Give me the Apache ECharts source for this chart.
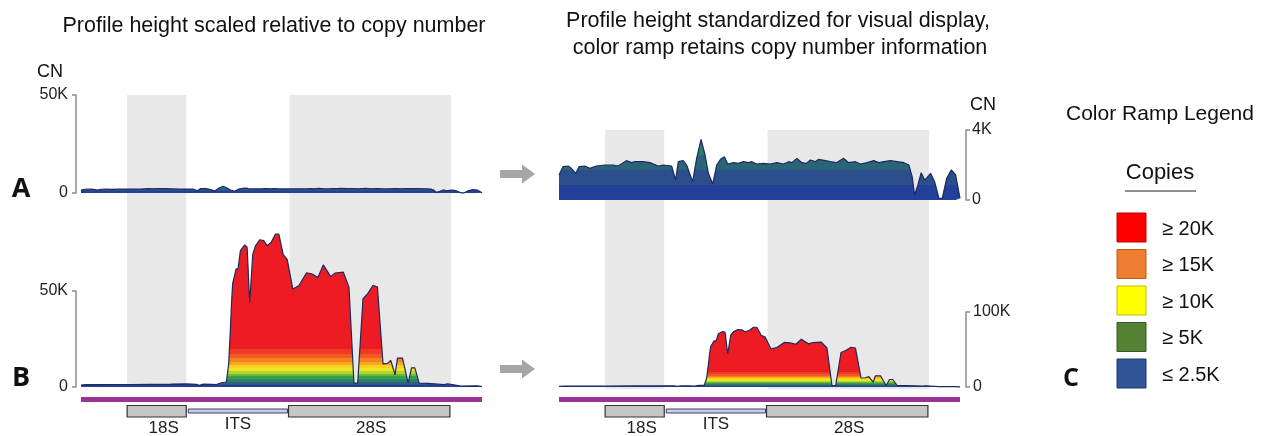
<!DOCTYPE html>
<html><head><meta charset="utf-8">
<script src="https://cdn.jsdelivr.net/npm/echarts@6/dist/echarts.min.js"></script>
<style>html,body{margin:0;padding:0;background:#fff}#c{width:1266px;height:436px}</style>
</head><body><div id="c"></div>
<script>
// ---------- DATA ----------
// position along the rDNA unit (0..400) and copy number
const profileA = [[0,1430],[4,1905],[9,1943],[12.3,1810],[16.7,1524],[20,1905],[25.7,1943],[30.7,1810],[37.3,1943],[45.7,2000],[54,2000],[59,1943],[67.3,2248],[72.3,2133],[75.7,2190],[84,2190],[90.7,2133],[99,1943],[104,2000],[112.3,1943],[116.3,1143],[119,2190],[124,2248],[127.3,2000],[133.3,1048],[137.3,2381],[141.7,3467],[145.7,2571],[149,1524],[153.3,914],[157.3,2000],[161.3,2343],[165,2476],[168.3,2057],[174,2133],[179,2095],[184,2190],[189,2133],[192.3,2190],[197.3,2057],[204,2095],[210.7,2057],[217.3,2133],[224,2057],[229,2190],[232.3,2133],[237.3,2381],[242.3,2133],[246.7,2095],[250.7,2286],[255.7,2190],[259,2324],[265.7,2248],[270.7,2190],[276.7,2133],[284,2381],[289,2133],[295.7,2190],[300.7,2057],[307.3,2133],[314,2248],[319,2133],[324,2190],[330.7,2248],[337.3,2190],[344,2133],[349,2000],[352.3,1333],[354.7,286],[358,857],[361.3,1562],[364.7,1143],[367.3,1295],[370.7,1524],[374.7,1048],[379,95],[382.3,95],[386.7,1238],[391.3,1714],[395.7,1429],[400,100]];
const profileB = [[0,1000],[5,1300],[15,1200],[30,1300],[50,1300],[70,1400],[90,1500],[105,1600],[115,1400],[118,900],[122,1500],[130,1400],[135,1300],[140,2200],[145,2600],[146.5,3000],[147.3,12000],[149,30000],[150.3,45000],[151.3,54000],[154.7,61500],[156.7,61500],[159,71000],[163.3,74000],[165.7,72800],[168.3,44000],[171.3,69000],[174,73500],[178.3,76700],[182.3,76200],[185.7,73600],[189.7,75400],[194,79700],[197.3,79700],[201.7,69000],[205.7,66500],[211.3,51000],[217.3,52700],[225,59500],[230.7,58800],[236.3,57000],[241.7,63600],[249,57500],[253.3,59300],[261.7,59800],[267.3,52000],[272.3,2000],[276,2000],[281.3,46000],[286,48600],[291.3,53000],[295.7,52000],[301.3,12000],[305.7,12300],[309,13800],[313.3,6400],[315.7,15000],[320.7,15000],[326.3,2000],[329.7,10000],[333,10000],[337.3,2000],[345.7,1900],[362.3,1200],[365.7,1700],[379,500],[395.7,600],[400,200]];
const grayBands = [[46,105],[208,369]];
const strand = [0, 400];
const geneFeatures = [
  {name:'18S', start:46,  end:105, kind:'box'},
  {name:'ITS', start:106, end:207, kind:'spacer'},
  {name:'28S', start:207, end:368, kind:'box'}
];
const leftATicks = [0, 50000],  leftATickLabels = ['0','50K'];
const leftBTicks = [0, 50000],  leftBTickLabels = ['0','50K'];
const rightATicks = [0, 4000],  rightATickLabels = ['0','4K'];
const rightBTicks = [0, 100000], rightBTickLabels = ['0','100K'];
const legendLabels = ['≥ 20K','≥ 15K','≥ 10K','≥ 5K','≤ 2.5K'];
const legendColors = ['#fe0000','#ed7d31','#ffff00','#548235','#2f5597'];
const legendBorders = ['#c00000','#c55a11','#bfbf00','#385723','#1f3864'];
const rampPieces = [
  {min:0,max:850,color:'#233f9a'},
  {min:850,max:1700,color:'#2a4f8c'},
  {min:1700,max:2600,color:'#2b6479'},
  {min:2600,max:3400,color:'#2e7a6c'},
  {min:3400,max:4300,color:'#2f8a5c'},
  {min:4300,max:5500,color:'#35a04a'},
  {min:5500,max:7000,color:'#6cb83e'},
  {min:7000,max:8500,color:'#b5d22f'},
  {min:8500,max:10000,color:'#eee51e'},
  {min:10000,max:11500,color:'#f8d21c'},
  {min:11500,max:13000,color:'#f8a81e'},
  {min:13000,max:15000,color:'#f58220'},
  {min:15000,max:17000,color:'#f15a22'},
  {min:17000,max:20000,color:'#ee3a24'},
  {min:20000,max:200000,color:'#ed1c24'}
];

// ---------- CHART ----------
const FONT = '"Liberation Sans", Arial, Helvetica, sans-serif';
const AX = '#8c8c8c';
const chart = echarts.init(document.getElementById('c'), null, {renderer:'canvas'});

const grids = [
  {left:81,  right:784, top:95,  height:98},   // 0 left A
  {left:81,  right:784, top:291, height:96},   // 1 left B
  {left:559, right:306, top:130, height:70},   // 2 right A
  {left:559, right:306, top:312, height:75},   // 3 right B
  {left:81,  right:784, top:95,  height:292},  // 4 left bands
  {left:559, right:306, top:130, height:259},  // 5 right bands
  {left:81,  right:784, top:395, height:40},   // 6 left gene
  {left:559, right:306, top:395, height:40}    // 7 right gene
];
const xAxes = grids.map((g,i)=>({gridIndex:i, type:'value', min:strand[0], max:strand[1], show:false}));

function yAx(i, ticks, labels, pos, offset, margin){
  return {gridIndex:i, type:'value', min:ticks[0], max:ticks[1], interval:ticks[1]-ticks[0],
    position:pos, offset:offset,
    axisLine:{show:true, onZero:false, lineStyle:{color:AX, width:1.5}},
    axisTick:{show:true, length:4, lineStyle:{color:AX, width:1.5}},
    splitLine:{show:false},
    axisLabel:{margin:margin, fontSize:16, color:'#222', fontFamily:FONT,
      formatter:(v)=>{const k=ticks.indexOf(v); return k>=0?labels[k]:'';}}
  };
}
const hiddenY = (i)=>({gridIndex:i, type:'value', min:0, max:1, show:false});
const yAxes = [
  yAx(0,leftATicks,leftATickLabels,'left',5,8),
  yAx(1,leftBTicks,leftBTickLabels,'left',5,8),
  yAx(2,rightATicks,rightATickLabels,'right',6,6),
  yAx(3,rightBTicks,rightBTickLabels,'right',6,7),
  hiddenY(4),hiddenY(5),hiddenY(6),hiddenY(7)
];

function bandSeries(i){
  return {type:'custom', xAxisIndex:i, yAxisIndex:i, z:1, silent:true, data:grayBands,
    renderItem:(params, api)=>{
      const cs = params.coordSys;
      const p0 = api.coord([api.value(0), 0]), p1 = api.coord([api.value(1), 0]);
      return {type:'rect', shape:{x:p0[0], y:cs.y, width:p1[0]-p0[0], height:cs.height},
        style:{fill:'#e8e8e8'}};
    }};
}
function areaSeries(i, data){
  return {type:'line', xAxisIndex:i, yAxisIndex:i, data:data, z:2, clip:false, silent:true,
    showSymbol:false, symbol:'none', lineStyle:{width:0}, areaStyle:{opacity:1}};
}
function outlineSeries(i, data){
  return {type:'line', xAxisIndex:i, yAxisIndex:i, data:data, z:3, clip:false, silent:true,
    showSymbol:false, symbol:'none', lineStyle:{width:1.2, color:'#1c2b5e'}};
}
function geneSeries(i){
  const items = [{name:'', start:strand[0], end:strand[1], kind:'strand'}].concat(geneFeatures);
  return {type:'custom', xAxisIndex:i, yAxisIndex:i, z:2, silent:true,
    data: items.map(f=>[f.start, f.end]),
    renderItem:(params, api)=>{
      const f = items[params.dataIndex];
      const cs = params.coordSys, top = cs.y;
      const x0 = api.coord([api.value(0),0])[0], x1 = api.coord([api.value(1),0])[0];
      if (f.kind === 'strand') {
        return {type:'rect', shape:{x:x0, y:top+2, width:x1-x0, height:5}, style:{fill:'#9b329a'}};
      }
      const children = [];
      if (f.kind === 'box') {
        children.push({type:'rect', shape:{x:x0, y:top+10.5, width:x1-x0, height:11.5},
          style:{fill:'#c6c6c6', stroke:'#333', lineWidth:1.2}});
        children.push({type:'text', style:{text:f.name, x:(x0+x1)/2 + (f.name==='18S'?7:2), y:top+33,
          textAlign:'center', textVerticalAlign:'middle', fontSize:17, fontFamily:FONT, fill:'#222'}});
      } else {
        children.push({type:'rect', shape:{x:x0+1, y:top+14, width:x1-x0-2, height:4},
          style:{fill:'#c9cde8', stroke:'#3b3f6e', lineWidth:1}});
        children.push({type:'text', style:{text:f.name, x:(x0+x1)/2, y:top+29,
          textAlign:'center', textVerticalAlign:'middle', fontSize:17, fontFamily:FONT, fill:'#222'}});
      }
      return {type:'group', children};
    }};
}

const series = [
  bandSeries(4), bandSeries(5),
  areaSeries(0, profileA), areaSeries(1, profileB), areaSeries(2, profileA), areaSeries(3, profileB),
  outlineSeries(0, profileA), outlineSeries(1, profileB), outlineSeries(2, profileA), outlineSeries(3, profileB),
  geneSeries(6), geneSeries(7)
];

function txt(text, x, y, size, opts){
  return Object.assign({type:'text', silent:true, style:Object.assign({text, x, y, fontSize:size,
    fontFamily:FONT, fill:'#111', align:'center', verticalAlign:'middle'}, opts||{})});
}
function arrow(cy){
  return {type:'polygon', silent:true, shape:{points:[[500,cy-4],[522,cy-4],[522,cy-9.5],[535,cy],[522,cy+9.5],[522,cy+4],[500,cy+4]]},
    style:{fill:'#a6a6a6'}};
}
const graphic = [
  txt('Profile height scaled relative to copy number', 274, 26, 21.5),
  txt('Profile height standardized for visual display,', 778, 21, 21.5),
  txt('color ramp retains copy number information', 780, 48, 21.5),
  txt('CN', 50, 72, 18),
  txt('CN', 983, 105, 18),
  txt('A', 21, 189, 27, {fontWeight:'bold', fontFamily:'"Open Sans", "Noto Sans", sans-serif'}),
  txt('B', 21, 378, 27, {fontWeight:'bold', fontFamily:'"Open Sans", "Noto Sans", sans-serif'}),
  txt('C', 1071, 379, 25, {fontWeight:'bold', fontFamily:'"Open Sans", "Noto Sans", sans-serif'}),
  txt('Color Ramp Legend', 1160, 114, 21),
  txt('Copies', 1160, 173, 22),
  {type:'line', silent:true, shape:{x1:1125, y1:191, x2:1196, y2:191}, style:{stroke:'#222', lineWidth:1.2}},
  arrow(174), arrow(369)
];
legendLabels.forEach((lab, k)=>{
  const y0 = 213 + k*36.5;
  graphic.push({type:'rect', silent:true, shape:{x:1117, y:y0, width:29, height:29},
    style:{fill:legendColors[k], stroke:legendBorders[k], lineWidth:1}});
  graphic.push(txt(lab, 1162, y0+16, 20, {align:'left'}));
});

chart.setOption({
  animation:false,
  backgroundColor:'#fff',
  grid: grids,
  xAxis: xAxes,
  yAxis: yAxes,
  visualMap: {type:'piecewise', show:false, dimension:1, seriesIndex:[2,3,4,5], pieces:rampPieces},
  series: series,
  graphic: graphic
});
</script>
</body></html>
